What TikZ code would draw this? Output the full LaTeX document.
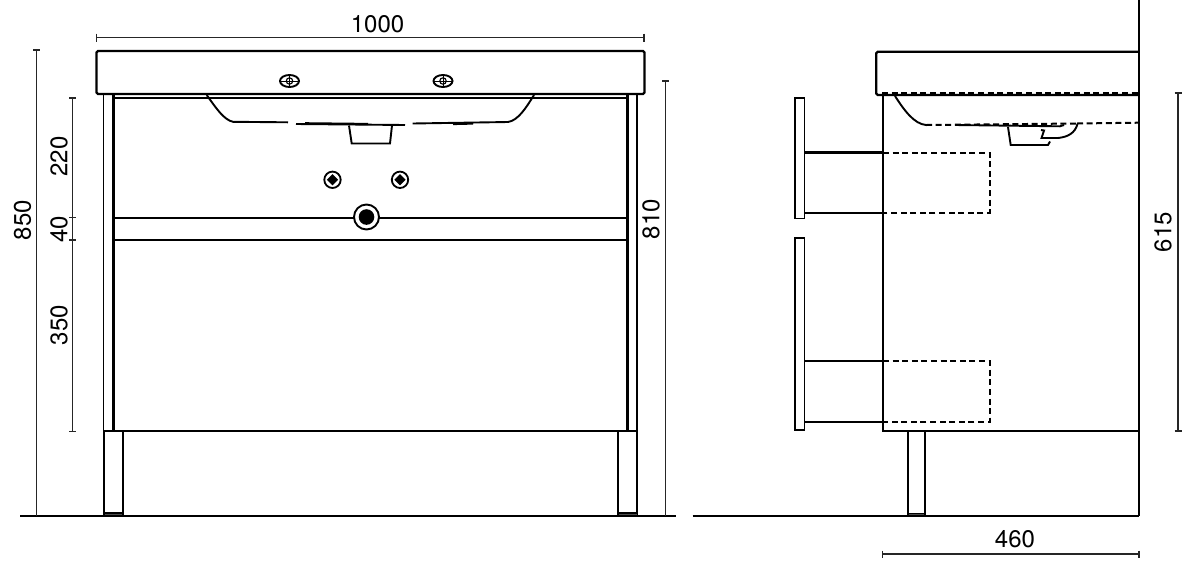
\documentclass[tikz,border=0pt]{standalone}
\usepackage{fontspec}
\setmainfont{TeX Gyre Heros}
\tikzset{
  heavy/.style={line width=2.2pt,black},
  medium/.style={line width=1.9pt,black},
  thick line/.style={line width=3pt,black},
  dashline/.style={line width=2pt,black,dash pattern=on 6pt off 3.6pt},
  dimline/.style={line width=1.4pt,black!85},
  dimlabel/.style={font=\fontsize{24}{24}\selectfont,inner sep=0pt,text=black},
  foot/.style={fill=black!70,draw=black,line width=1.2pt},
}
\begin{document}
\begin{tikzpicture}[x=1pt,y=-1pt]
\useasboundingbox (0,0) rectangle (1200,574);
% ---- FRONT VIEW ----
% worktop
\draw[heavy,rounded corners=1.5pt] (96.5,94) -- (96.5,51) -- (644.5,51) -- (644.5,94) -- cycle;
\draw[heavy] (113,98) -- (628,98);
% uprights
\draw[medium] (103.5,94) -- (103.5,431);
\draw[thick line] (113.3,94) -- (113.3,431);
\draw[thick line] (627.7,94) -- (627.7,431);
\draw[medium] (637.3,94) -- (637.3,431);
% shelf and base
\draw[heavy] (113,217.7) -- (628,217.7);
\draw[heavy] (113,240) -- (628,240);
\draw[heavy] (103.5,431) -- (637.5,431);
% legs
\draw[medium] (104,431) -- (104,516);
\draw[heavy] (122.7,431) -- (122.7,516);
\draw[foot] (104,513) rectangle (122.7,516);
\draw[heavy] (618.3,431) -- (618.3,516);
\draw[medium] (637.3,431) -- (637.3,516);
\draw[foot] (618.3,513) rectangle (637.3,516);
% floor
\draw[heavy] (20,516) -- (675.5,516);
\draw[heavy] (692.5,516) -- (1139,516);
% basin front
\draw[medium] (206.7,95) .. controls (216,108) and (224,120) .. (233,121.8) -- (288,122.3);
\draw[medium] (296,124) -- (405,125);
\draw[heavy] (305,123.3) -- (368,124);
\draw[medium] (349,125.5) -- (351.7,143.5) -- (390,143.5) -- (392,125.5);
\draw[medium] (412.7,123.5) -- (508,122) .. controls (518,120.5) and (526,108) .. (534,95);
\draw[heavy] (453,124) -- (473,123.5);
% tap holes on worktop
\foreach \px/\pn in {289.5/a,443/b}{
  \draw[line width=1.9pt] (\px,81) ellipse [x radius=9.5,y radius=6];
  \draw[line width=1.1pt] (\px,81) circle [radius=3.2];
  \draw[line width=1pt] (\px-9.5,81) -- (\px+9.5,81) (\px,76) -- (\px,86);
}
% valves
\foreach \px in {332.5,400}{
  \draw[line width=1.8pt,fill=white] (\px,179.8) circle [radius=8.2];
  \fill (\px,174.2) -- (\px+5.6,179.8) -- (\px,185.4) -- (\px-5.6,179.8) -- cycle;
}
% drain
\draw[line width=1.9pt,fill=white] (366.5,217) circle [radius=12.5];
\fill (366.5,217) circle [radius=7.8];
% ---- SIDE VIEW ----
\draw[heavy] (1139,0) -- (1139,516);
\draw[heavy,rounded corners=1.5pt] (1139,51.7) -- (876.3,51.7) -- (876.3,95) -- (1139,95);
\draw[dashline] (882,92.7) -- (1139,92.7);
\draw[heavy] (883,95) -- (883,431) -- (1139,431);
% basin section
\draw[medium] (895,96) .. controls (904,110) and (914,124) .. (926,125);
\draw[dashline] (926,125) -- (1077,123.5);
\draw[dashline] (1077,123.5) -- (1139,122.7);
\draw[medium] (955,125) -- (1060,126.3) -- (1064,125);
\draw[medium] (1008,127) -- (1010.7,145) -- (1048,145) -- (1050,141.5);
\draw[medium] (1041,130) -- (1044,130.5) -- (1041.5,138) -- (1058,138) .. controls (1068,137) and (1075,133) .. (1077.5,124);
% drawers
\draw[medium] (795.3,98) rectangle (804.5,218.5);
\draw[medium] (795.3,238) rectangle (804.5,429.7);
\draw[heavy] (804.5,152.5) -- (883,152.5);
\draw[heavy] (804.5,212.7) -- (883,212.7);
\draw[dashline] (883,152.5) -- (989.5,152.5) -- (989.5,212.7) -- (883,212.7);
\draw[heavy] (804.5,361) -- (883,361);
\draw[heavy] (804.5,421.7) -- (883,421.7);
\draw[dashline] (883,361) -- (989.5,361) -- (989.5,421.7) -- (883,421.7);
% side leg
\draw[medium] (908.3,431) -- (908.3,516);
\draw[heavy] (925,431) -- (925,516);
\draw[foot] (908.3,513.5) rectangle (925,516);
% ---- DIMENSIONS ----
\draw[dimline] (96.5,37.5) -- (644,37.5);
\draw[dimline] (96.5,33.5) -- (96.5,41.5) (644,33.5) -- (644,41.5);
\node[dimlabel] (d1000) at (377.5,24) {1000};
\draw[dimline] (36.5,50) -- (36.5,516);
\draw[dimline] (33,50) -- (40,50);
\node[dimlabel,rotate=90] (d850) at (22.5,220) {850};
\draw[dimline] (72.5,98) -- (72.5,431.5);
\foreach \py in {98,217.7,240,431.5}{\draw[dimline] (69,\py) -- (76,\py);}
\node[dimlabel,rotate=90] (d220) at (59,156.5) {220};
\node[dimlabel,rotate=90] (d40) at (59,229) {40};
\node[dimlabel,rotate=90] (d350) at (59,325) {350};
\draw[dimline] (665.5,81) -- (665.5,516);
\draw[dimline] (662,81) -- (669,81);
\node[dimlabel,rotate=90] (d810) at (651,219) {810};
\draw[dimline] (1178,93) -- (1178,431);
\draw[dimline] (1174.5,93) -- (1181.5,93) (1174.5,431) -- (1181.5,431);
\node[dimlabel,rotate=90] (d615) at (1163,232) {615};
\draw[dimline] (882.5,554) -- (1139,554);
\draw[dimline] (882.5,550.5) -- (882.5,557.5) (1139,550.5) -- (1139,557.5);
\node[dimlabel] (d460) at (1015,539) {460};
\end{tikzpicture}
\end{document}
